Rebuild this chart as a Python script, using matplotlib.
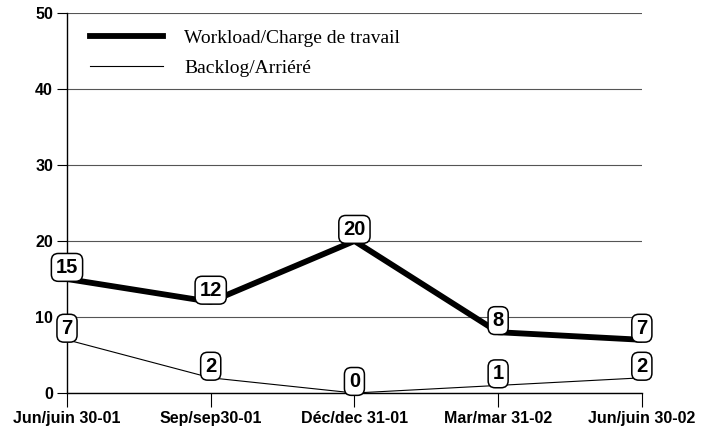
import matplotlib.pyplot as plt

dates = ['Jun/juin 30-01', 'Sep/sep30-01', 'Déc/dec 31-01', 'Mar/mar 31-02', 'Jun/juin 30-02']
workload = [15, 12, 20, 8, 7]
backlog = [7, 2, 0, 1, 2]

plt.rcParams['font.family'] = ['Liberation Sans', 'DejaVu Sans']

fig = plt.figure(figsize=(7.15, 4.3), dpi=100)
ax = fig.add_axes([0.0937, 0.086, 0.804, 0.884])

x = list(range(len(dates)))
ax.plot(x, workload, color='black', lw=4.2, label='Workload/Charge de travail')
ax.plot(x, backlog, color='black', lw=0.8, label='Backlog/Arriéré')

box = dict(boxstyle='round,pad=0.22,rounding_size=0.35', fc='white', ec='black', lw=1.1)
for series in (workload, backlog):
    for xi, v in zip(x, series):
        ax.annotate(str(v), (xi, v), xytext=(0, 1.5), textcoords='offset points',
                    ha='center', va='bottom', fontsize=14.5, fontweight='bold',
                    bbox=box, zorder=5)

ax.set_xlim(0, len(dates) - 1)
ax.set_ylim(0, 50)
ax.set_yticks(range(0, 51, 10))
ax.set_xticks(x)
ax.set_xticklabels(dates)
ax.yaxis.grid(True, color='#555555', lw=0.8)
ax.set_axisbelow(True)

for s in ['top', 'right']:
    ax.spines[s].set_visible(False)
ax.spines['left'].set_linewidth(1)
ax.spines['bottom'].set_linewidth(1)
ax.tick_params(axis='y', length=7, width=0.8, labelsize=11.5, pad=3)
ax.tick_params(axis='x', length=10, width=0.8, labelsize=11.5, pad=3)
for lab in ax.get_xticklabels() + ax.get_yticklabels():
    lab.set_fontweight('bold')

ax.legend(loc='upper left', bbox_to_anchor=(0.026, 0.977), frameon=False,
          prop={'family': 'Liberation Serif', 'size': 14}, handlelength=3.75,
          handletextpad=1.1, labelspacing=0.62, borderaxespad=0)

fig.savefig('out.png', dpi=100)
